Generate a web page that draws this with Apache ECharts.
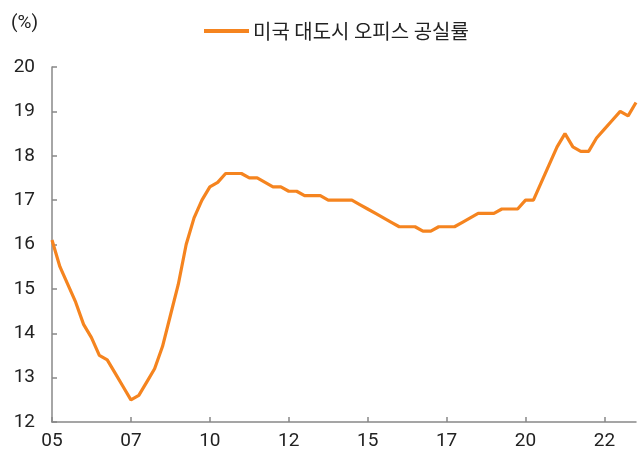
<!DOCTYPE html>
<html>
<head>
<meta charset="utf-8">
<script src="https://cdn.jsdelivr.net/npm/echarts@6/dist/echarts.min.js"></script>
<style>
  html, body { margin: 0; padding: 0; background: #fff; }
  #chart { width: 641px; height: 457px; }
</style>
</head>
<body>
<div id="chart"></div>
<script>
// 분기별 (2005Q1 ~ 2023Q3)
const years = ['05','06','07','08','09','10','11','12','13','14','15','16','17','18','19','20','21','22','23']
const quarters = []
years.forEach(y => {
  for (let q = 1; q <= 4; q++) quarters.push(y + 'Q' + q)
})
const categories = quarters.slice(0, 75)

// 미국 대도시 오피스 공실률 (%)
const vacancy = [
  16.1, 15.5, 15.1, 14.7, 14.2, 13.9, 13.5, 13.4, 13.1, 12.8,
  12.5, 12.6, 12.9, 13.2, 13.7, 14.4, 15.1, 16.0, 16.6, 17.0,
  17.3, 17.4, 17.6, 17.6, 17.6, 17.5, 17.5, 17.4, 17.3, 17.3,
  17.2, 17.2, 17.1, 17.1, 17.1, 17.0, 17.0, 17.0, 17.0, 16.9,
  16.8, 16.7, 16.6, 16.5, 16.4, 16.4, 16.4, 16.3, 16.3, 16.4,
  16.4, 16.4, 16.5, 16.6, 16.7, 16.7, 16.7, 16.8, 16.8, 16.8,
  17.0, 17.0, 17.4, 17.8, 18.2, 18.5, 18.2, 18.1, 18.1, 18.4,
  18.6, 18.8, 19.0, 18.9, 19.2
]

const yTicks = [12, 13, 14, 15, 16, 17, 18, 19, 20]

const myChart = echarts.init(document.getElementById('chart'))
const option = {
  animation: false,
  textStyle: { fontFamily: 'Roboto, "Noto Sans CJK KR", sans-serif' },
  title: {
    text: '(%)',
    left: 6,
    top: 9,
    textStyle: { color: '#222', fontSize: 19, fontWeight: 'normal' }
  },
  legend: {
    left: 199,
    top: 16,
    icon: 'rect',
    itemWidth: 45,
    itemHeight: 4,
    itemGap: 10,
    textStyle: { color: '#222', fontSize: 20, fontFamily: '"Noto Sans CJK KR", sans-serif', padding: [0, 0, 0, -1] },
    data: ['미국 대도시 오피스 공실률']
  },
  grid: {
    left: 52,
    right: 5,
    top: 67,
    bottom: 35,
    containLabel: false
  },
  xAxis: {
    type: 'category',
    data: categories,
    boundaryGap: false,
    axisLine: { lineStyle: { color: '#888', width: 1.5 } },
    axisTick: { show: true, inside: true, length: 5, interval: 9, lineStyle: { color: '#888', width: 1.5 } },
    axisLabel: {
      interval: 9,
      margin: 10,
      color: '#222',
      fontSize: 19,
      formatter: v => v.slice(0, 2)
    },
    splitLine: { show: false }
  },
  yAxis: {
    type: 'value',
    min: yTicks[0],
    max: yTicks[yTicks.length - 1],
    interval: 1,
    axisLine: { show: true, lineStyle: { color: '#888', width: 1.5 } },
    axisTick: { show: true, inside: true, length: 5, lineStyle: { color: '#888', width: 1.5 } },
    axisLabel: { color: '#222', fontSize: 19, margin: 17 },
    splitLine: { show: false }
  },
  series: [
    {
      name: '미국 대도시 오피스 공실률',
      type: 'line',
      data: vacancy,
      showSymbol: false,
      symbol: 'none',
      smooth: false,
      color: '#F5841F',
      lineStyle: { color: '#F5841F', width: 3.2 }
    }
  ]
}
myChart.setOption(option)
</script>
</body>
</html>
